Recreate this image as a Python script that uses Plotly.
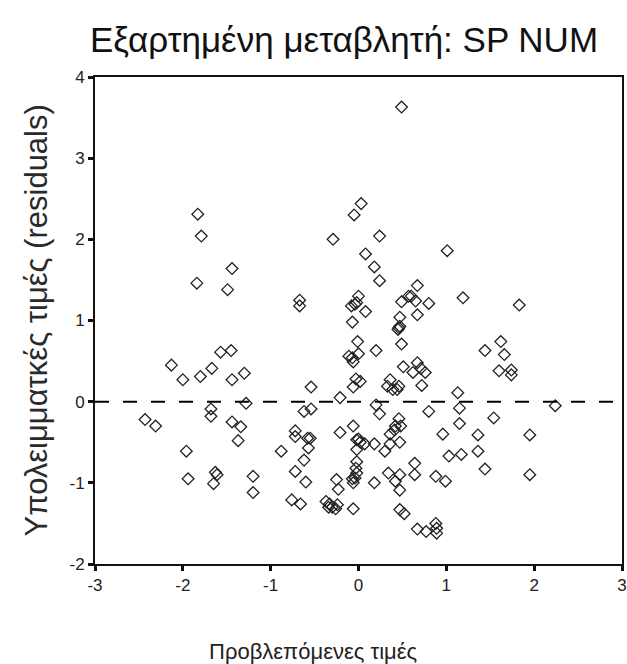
import plotly.graph_objects as go

# Predicted values (standardized) and residuals
pred = [-2.43, -2.31, -2.13, -2.00, -1.96, -1.94, -1.83, -1.79, -1.84, -1.80,
        -1.68, -1.68, -1.67, -1.63, -1.65, -1.61, -1.57, -1.45, -1.44, -1.49,
        -1.44, -1.44, -1.34, -1.37, -1.30, -1.28, -1.20, -1.20,
        -0.88, -0.76, -0.66, -0.72, -0.72, -0.67, -0.67, -0.62, -0.54, -0.58,
        -0.55, -0.57, -0.62, -0.72, -0.60, -0.54, -0.37, -0.33, -0.30, -0.26,
        -0.24, -0.34, -0.29, -0.25, -0.23, -0.21, -0.21,
        -0.05, 0.03, 0.24, 0.08, 0.18, 0.24, 0.00, -0.04, -0.08, -0.02,
        0.08, -0.07, -0.01, 0.20, -0.11, -0.07, -0.06, 0.00, -0.03, -0.06,
        0.02, 0.20, 0.24, -0.06, 0.00, -0.02, 0.02, 0.07, 0.18, -0.02,
        -0.02, -0.03, -0.02, -0.04, -0.07, -0.06, 0.18, -0.06, 0.30,
        0.49, 0.49, 0.57, 0.60, 0.67, 0.65, 0.80, 0.47, 0.46, 0.47,
        0.45, 0.67, 0.49, 0.51, 0.67, 0.62, 0.71, 0.76, 0.36, 0.33,
        0.39, 0.44, 0.46, 0.72, 0.80, 0.42, 0.46, 0.48, 0.36, 0.47,
        0.36, 0.41, 0.34, 0.47, 0.42, 0.47, 0.64, 0.64, 0.88, 0.99,
        0.47, 0.52, 0.67, 0.77, 0.88, 0.89, 0.89,
        1.01, 1.19, 1.83, 1.62, 1.44, 1.66, 1.60, 1.74, 1.74, 1.13,
        2.24, 1.15, 1.54, 1.15, 0.96, 1.36, 1.95, 1.03, 1.17, 1.36,
        1.44, 1.95]

resid = [-0.22, -0.30, 0.45, 0.27, -0.61, -0.95, 2.31, 2.04, 1.46, 0.31,
         -0.09, -0.18, 0.41, -0.87, -1.01, -0.90, 0.61, 0.63, 1.64, 1.38,
         0.27, -0.25, -0.31, -0.48, 0.35, -0.02, -0.92, -1.12,
         -0.61, -1.21, -1.26, -0.36, -0.43, 1.25, 1.18, -0.12, -0.09, -0.45,
         -0.45, -0.57, -0.72, -0.86, -0.99, 0.18, -1.23, -1.26, -1.30, -1.32,
         -1.27, -1.30, 2.00, -0.96, -1.08, -0.38, 0.05,
         2.30, 2.44, 2.04, 1.82, 1.66, 1.49, 1.30, 1.20, 1.18, 1.22,
         1.11, 0.98, 0.74, 0.63, 0.56, 0.54, 0.49, 0.59, 0.28, 0.18,
         0.25, -0.04, -0.15, -0.30, -0.46, -0.47, -0.50, -0.52, -0.52, -0.59,
         -0.74, -0.82, -0.88, -0.94, -0.95, -1.00, -1.00, -1.32, -0.61,
         3.63, 1.23, 1.30, 1.30, 1.43, 1.24, 1.21, 1.04, 0.91, 0.93,
         0.89, 1.07, 0.71, 0.43, 0.48, 0.36, 0.41, 0.36, 0.27, 0.19,
         0.15, 0.15, 0.19, 0.20, -0.12, -0.30, -0.21, -0.30, -0.52, -0.50,
         -0.40, -0.35, -0.88, -0.90, -0.98, -1.09, -0.76, -0.90, -0.92, -0.98,
         -1.33, -1.38, -1.57, -1.60, -1.50, -1.56, -1.62,
         1.86, 1.28, 1.19, 0.74, 0.63, 0.58, 0.38, 0.39, 0.33, 0.11,
         -0.05, -0.08, -0.20, -0.27, -0.40, -0.41, -0.41, -0.67, -0.65, -0.61,
         -0.83, -0.90]

x_ticks = [-3, -2, -1, 0, 1, 2, 3]
y_ticks = [-2, -1, 0, 1, 2, 3, 4]

title_text = "Εξαρτημένη μεταβλητή: SP NUM"
x_title = "Προβλεπόμενες τιμές"
y_title = "Υπολειμματκές τιμές (residuals)"

fig = go.Figure()
fig.add_trace(go.Scatter(
    x=pred, y=resid, mode="markers",
    marker=dict(symbol="diamond-open", size=9, color="#222222",
                line=dict(width=1.3, color="#222222")),
    showlegend=False, hoverinfo="skip"))

fig.add_shape(type="line", xref="x", yref="y", x0=-3, x1=3, y0=0, y1=0,
              line=dict(color="black", width=2, dash="14px,14px"))

axis_common = dict(showgrid=False, zeroline=False, showline=True, mirror=True,
                   linecolor="#111111", linewidth=2, ticks="outside",
                   ticklen=5, tickwidth=3, tickcolor="#111111", automargin=False,
                   tickfont=dict(family="Liberation Sans", size=17, color="#222222"))

fig.update_xaxes(range=[-3, 3], tickvals=x_ticks, ticktext=[str(v) for v in x_ticks],
                 **axis_common)
fig.update_yaxes(range=[-2, 4], tickvals=y_ticks, ticktext=[str(v) for v in y_ticks],
                 **axis_common)

fig.add_annotation(text=y_title, xref="paper", yref="paper", x=-(95 - 36) / 527,
                   y=0.5, xanchor="center", yanchor="middle", textangle=-90,
                   showarrow=False,
                   font=dict(family="Liberation Sans", size=31, color="#2a2a2a"))

fig.add_annotation(text=x_title, xref="paper", yref="paper", x=(313 - 95) / 527,
                   y=-(651 - 564) / 487, xanchor="center", yanchor="middle",
                   showarrow=False,
                   font=dict(family="Liberation Sans", size=22, color="#222222"))

fig.update_layout(
    width=627, height=664,
    margin=dict(l=95, r=5, t=77, b=100, autoexpand=False),
    paper_bgcolor="white", plot_bgcolor="white",
    title=dict(text=title_text, x=344 / 627, xanchor="center", y=1 - 40 / 664,
               yanchor="middle",
               font=dict(family="Liberation Sans", size=35, color="#111111")),
)

fig.write_html("out.html", config={"displayModeBar": False},
               post_script="document.body.style.margin='0';document.body.style.overflow='hidden';")
